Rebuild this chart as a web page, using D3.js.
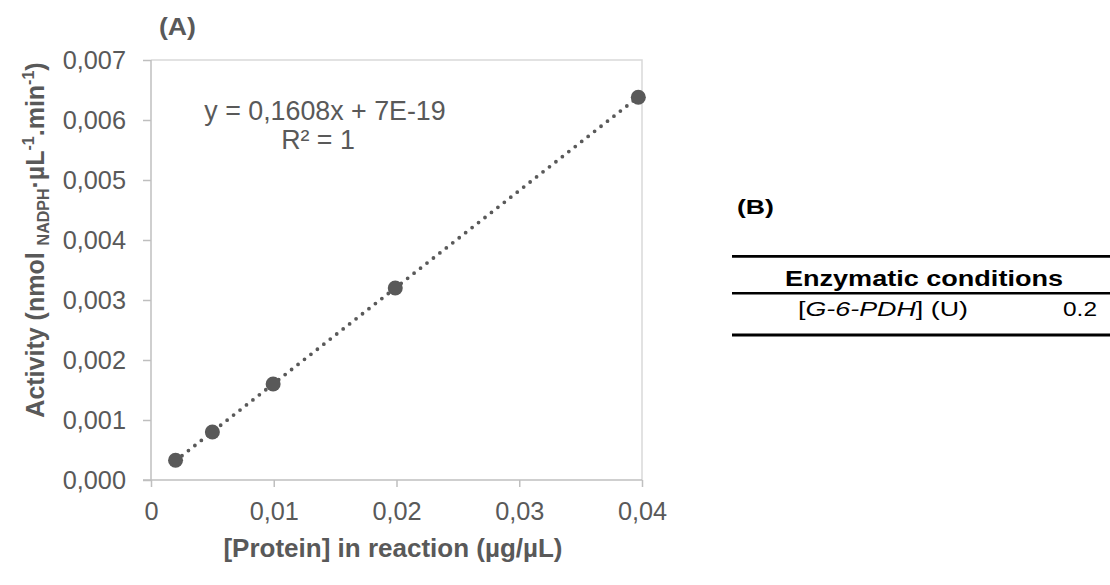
<!DOCTYPE html>
<html>
<head>
<meta charset="utf-8">
<script src="https://cdn.jsdelivr.net/npm/d3@7/dist/d3.min.js"></script>
<style>
  html, body { margin: 0; padding: 0; background: #fff; }
  svg { display: block; font-family: Arial, "Liberation Sans", sans-serif; }
</style>
</head>
<body>
<svg id="chart" width="1110" height="585"></svg>
<script>
// Protein concentration (µg/µL) and measured activity
const protein = [0.002, 0.005, 0.00995, 0.0199, 0.0397];
const activity = [0.00033, 0.0008, 0.0016, 0.0032, 0.00638];

// Linear fit shown on the chart
const fitSlope = 0.1608;
const fitIntercept = 7e-19;
const fitLabels = ["y = 0,1608x + 7E-19", "R² = 1"];

// Axis ticks
const xTicks = [0, 0.01, 0.02, 0.03, 0.04];
const xTickLabels = ["0", "0,01", "0,02", "0,03", "0,04"];
const yTicks = [0, 0.001, 0.002, 0.003, 0.004, 0.005, 0.006, 0.007];
const yTickLabels = ["0,000", "0,001", "0,002", "0,003", "0,004", "0,005", "0,006", "0,007"];

// Table (B)
const tableHeader = "Enzymatic conditions";
const tableRowValue = "0.2";

const svg = d3.select("#chart");
const textCol = "#595959";
const markCol = "#595959";
const axisCol = "#BFBFBF";
const tickFont = 25.3;

const x = d3.scaleLinear().domain([0, 0.04]).range([151, 642]);
const y = d3.scaleLinear().domain([0, 0.007]).range([480, 60]);

// Plot area frame (top and right edges)
svg.append("path")
  .attr("d", `M${x(0)},${y(0.007)}H${x(0.04)}V${y(0)}`)
  .attr("fill", "none").attr("stroke", "#D9D9D9").attr("stroke-width", 1.5);

// Y axis
const yAxis = d3.axisLeft(y).tickValues(yTicks).tickSize(8)
  .tickFormat((d, i) => yTickLabels[i]).tickPadding(17);
const gy = svg.append("g").attr("transform", `translate(${x(0)},0)`).call(yAxis);
gy.select(".domain").attr("stroke", axisCol).attr("stroke-width", 1.5).attr("d", `M0,${y(0.007)}V${y(0)}`);
gy.selectAll(".tick line").attr("stroke", axisCol).attr("stroke-width", 1.5);
gy.selectAll(".tick text").attr("fill", textCol).attr("font-size", tickFont)
  .attr("font-family", "Arial, 'Liberation Sans', sans-serif");

// X axis
const xAxis = d3.axisBottom(x).tickValues(xTicks).tickSize(7)
  .tickFormat((d, i) => xTickLabels[i]).tickPadding(15);
const gx = svg.append("g").attr("transform", `translate(0,${y(0)})`).call(xAxis);
gx.select(".domain").attr("stroke", axisCol).attr("stroke-width", 1.5).attr("d", `M${x(0) - 8},0H${x(0.04)}`);
gx.selectAll(".tick line").attr("stroke", axisCol).attr("stroke-width", 1.5);
gx.selectAll(".tick text").attr("fill", textCol).attr("font-size", tickFont)
  .attr("font-family", "Arial, 'Liberation Sans', sans-serif");

// Dotted trendline over the data range
const xMin = d3.min(protein), xMax = d3.max(protein);
svg.append("line")
  .attr("x1", x(xMin)).attr("y1", y(fitSlope * xMin + fitIntercept))
  .attr("x2", x(xMax)).attr("y2", y(fitSlope * xMax + fitIntercept))
  .attr("stroke", markCol).attr("stroke-width", 3.8)
  .attr("stroke-linecap", "round").attr("stroke-dasharray", "0 8.2");

// Data points
svg.append("g").selectAll("circle")
  .data(protein.map((p, i) => [p, activity[i]]))
  .join("circle")
  .attr("cx", d => x(d[0])).attr("cy", d => y(d[1]))
  .attr("r", 7.5).attr("fill", markCol);

// Fit equation
svg.append("text").attr("x", 325).attr("y", 120).attr("text-anchor", "middle")
  .attr("fill", textCol).attr("font-size", 26.8).text(fitLabels[0]);
svg.append("text").attr("x", 318).attr("y", 149).attr("text-anchor", "middle")
  .attr("fill", textCol).attr("font-size", 26.8).text(fitLabels[1]);

// Panel label (A)
svg.append("text").attr("x", 159).attr("y", 35).attr("fill", textCol)
  .attr("font-size", 23).attr("font-weight", "bold")
  .attr("textLength", 37).attr("lengthAdjust", "spacingAndGlyphs").text("(A)");

// X axis title
svg.append("text").attr("x", 393).attr("y", 557).attr("text-anchor", "middle")
  .attr("fill", textCol).attr("font-size", 26).attr("font-weight", "bold")
  .text("[Protein] in reaction (µg/µL)");

// Y axis title with sub/superscripts
const yt = svg.append("text")
  .attr("transform", "translate(44,240) rotate(-90)")
  .attr("text-anchor", "middle").attr("fill", textCol)
  .attr("font-size", 25).attr("font-weight", "bold");
yt.append("tspan").text("Activity (nmol ");
yt.append("tspan").attr("font-size", 16).attr("dy", 5).text("NADPH");
yt.append("tspan").attr("dy", -5).text("·µL");
yt.append("tspan").attr("font-size", 16).attr("dy", -10).text("-1");
yt.append("tspan").attr("dy", 10).text(".min");
yt.append("tspan").attr("font-size", 16).attr("dy", -10).text("-1");
yt.append("tspan").attr("dy", 10).text(")");

// Panel (B): conditions table
svg.append("text").attr("x", 737).attr("y", 214).attr("fill", "#000")
  .attr("font-size", 21).attr("font-weight", "bold")
  .attr("textLength", 37).attr("lengthAdjust", "spacingAndGlyphs").text("(B)");

const rules = [[256.3, 2.8], [293.3, 2.6], [335, 2.8]];
svg.append("g").selectAll("line").data(rules).join("line")
  .attr("x1", 732).attr("x2", 1110)
  .attr("y1", d => d[0]).attr("y2", d => d[0])
  .attr("stroke", "#000").attr("stroke-width", d => d[1]);

svg.append("text").attr("x", 785).attr("y", 286).attr("fill", "#000")
  .attr("font-size", 22).attr("font-weight", "bold")
  .attr("textLength", 278).attr("lengthAdjust", "spacingAndGlyphs").text(tableHeader);

const row = svg.append("text").attr("x", 798).attr("y", 316).attr("fill", "#000")
  .attr("font-size", 21).attr("textLength", 170).attr("lengthAdjust", "spacingAndGlyphs");
row.append("tspan").text("[");
row.append("tspan").attr("font-style", "italic").text("G-6-PDH");
row.append("tspan").text("] (U)");

svg.append("text").attr("x", 1063).attr("y", 316).attr("fill", "#000")
  .attr("font-size", 21).attr("textLength", 34).attr("lengthAdjust", "spacingAndGlyphs")
  .text(tableRowValue);
</script>
</body>
</html>
